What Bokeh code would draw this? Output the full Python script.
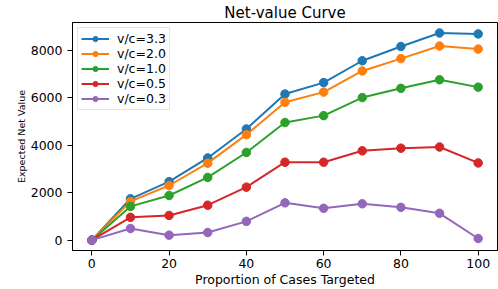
from bokeh.plotting import figure
from bokeh.models import Range1d, FixedTicker, Legend
from bokeh.embed import file_html
from bokeh.resources import INLINE

x = [0, 10, 20, 30, 40, 50, 60, 70, 80, 90, 100]
v33 = [0, 1740, 2460, 3460, 4680, 6150, 6630, 7550, 8150, 8720, 8680]
v20 = [0, 1630, 2300, 3240, 4440, 5800, 6230, 7120, 7640, 8170, 8040]
v10 = [0, 1420, 1880, 2640, 3690, 4950, 5240, 6000, 6390, 6750, 6440]
v05 = [0, 960, 1040, 1470, 2230, 3280, 3280, 3760, 3870, 3920, 3250]
v03 = [0, 490, 210, 320, 790, 1570, 1340, 1530, 1380, 1130, 70]

series = [("v/c=3.3", v33, "#1f77b4"), ("v/c=2.0", v20, "#ff7f0e"),
          ("v/c=1.0", v10, "#2ca02c"), ("v/c=0.5", v05, "#d62728"),
          ("v/c=0.3", v03, "#9467bd")]
x_ticks = [0, 20, 40, 60, 80, 100]
y_ticks = [0, 2000, 4000, 6000, 8000]

FONT = "DejaVu Sans"

p = figure(width=498, height=289, output_backend="svg", toolbar_location=None,
           x_range=Range1d(-5, 105), y_range=Range1d(-436, 9160),
           min_border_left=72, min_border_right=1, min_border_top=22,
           min_border_bottom=38, title="Net-value Curve")
p.title.align = "center"
p.title.text_font = FONT
p.title.text_font_size = "15px"
p.title.text_font_style = "normal"
p.title.text_color = "black"
p.title.standoff = 2
p.background_fill_color = "white"
p.border_fill_color = "white"
p.outline_line_color = "black"
p.outline_line_width = 1
p.xgrid.visible = False
p.ygrid.visible = False

for ax, ticks in ((p.xaxis, x_ticks), (p.yaxis, y_ticks)):
    ax.ticker = FixedTicker(ticks=ticks)
    ax.minor_tick_line_color = None
    ax.major_tick_in = 0
    ax.major_tick_out = 5
    ax.axis_line_color = "black"
    ax.major_tick_line_color = "black"
    ax.major_label_text_font = FONT
    ax.major_label_text_font_size = "12.5px"
    ax.major_label_text_color = "black"
    ax.axis_label_text_font = FONT
    ax.axis_label_text_font_style = "normal"
    ax.axis_label_text_color = "black"

p.xaxis.axis_label = "Proportion of Cases Targeted"
p.xaxis.axis_label_text_font_size = "12.5px"
p.xaxis.major_label_standoff = 3
p.xaxis.axis_label_standoff = 1
p.yaxis.axis_label = "Expected Net Value"
p.yaxis.axis_label_text_font_size = "9.5px"
p.yaxis.major_label_standoff = 5
p.yaxis.axis_label_standoff = 1

items = []
for label, ys, color in series:
    r1 = p.line(x, ys, line_color=color, line_width=2)
    r2 = p.scatter(x, ys, marker="circle", size=8.5, fill_color=color, line_color=color)
    items.append((label, [r1, r2]))

legend = Legend(items=items, location="top_left")
legend.margin = 5
legend.padding = 3
legend.spacing = 0
legend.glyph_width = 28
legend.glyph_height = 13
legend.label_height = 13
legend.label_standoff = 8
legend.label_text_font = FONT
legend.label_text_font_size = "12.5px"
legend.label_text_color = "black"
legend.border_line_color = "#cccccc"
legend.border_line_width = 1
legend.background_fill_alpha = 0.8
p.add_layout(legend, "center")

open("out.html", "w").write(file_html(p, INLINE))
